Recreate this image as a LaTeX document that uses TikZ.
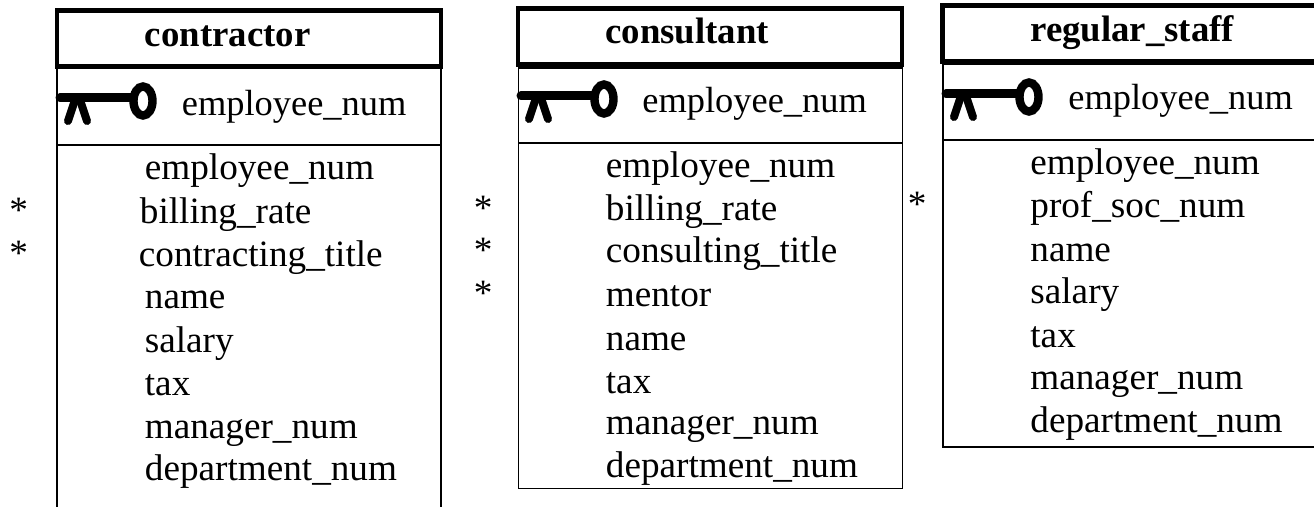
\documentclass[tikz,border=0pt]{standalone}
\usepackage{fontspec}
\setmainfont{Liberation Serif}

\begin{document}
\begin{tikzpicture}[x=0.5pt, y=-0.5pt]
    % Styles
    \tikzstyle{titlebox} = [draw=black, line width=2.4pt, inner sep=0pt, anchor=north west, minimum height=28pt]
    \tikzstyle{frame} = [draw=black, line width=0.9pt]
    \tikzstyle{title} = [anchor=base west, inner sep=0pt, font=\fontsize{18.4}{22}\selectfont\bfseries]
    \tikzstyle{field} = [anchor=base west, inner sep=0pt, font=\fontsize{18.6}{22}\selectfont]
    \tikzstyle{keyfield} = [anchor=base west, inner sep=0pt, font=\fontsize{18.2}{22}\selectfont]
    \tikzset{
        keysym/.pic={
            \draw[line width=4.5pt, line cap=round] (0,0) -- (72,0);
            \draw[line width=4.2pt] (83,3) ellipse (9.5 and 14.5);
            \draw[line width=4pt, line cap=round] (15,2) -- (8,23);
            \draw[line width=4pt, line cap=round] (20,2) -- (27,23);
        }
    }
    \useasboundingbox (0,0) rectangle (1314,507);

    % Contractor
    \node[titlebox, minimum width=192pt] (conTitle) at (54.5,8.5) {};
    \coordinate (conEnd1) at (57,507);
    \coordinate (conEnd2) at (441,507);
    \draw[frame] (conTitle.south west -| conEnd1) -- (conEnd1);
    \draw[frame] (conTitle.south west -| conEnd2) -- (conEnd2);
    \coordinate (conDiv1) at (57,145);
    \coordinate (conDiv2) at (441,145);
    \draw[frame] (conDiv1) -- (conDiv2);
    \pic at (60,98) {keysym};
    \node[title] (conName) at (144.5,46.5) {contractor};
    \node[keyfield] (conKey) at (181.5,116) {employee\_num};
    \node[field] (conA1) at (144.5,180) {employee\_num};
    \node[field] (conA2) at (139.5,224) {billing\_rate};
    \node[field] (conA3) at (138.5,267) {contracting\_title};
    \node[field] (conA4) at (144.5,309) {name};
    \node[field] (conA5) at (144.5,353) {salary};
    \node[field] (conA6) at (144.5,396) {tax};
    \node[field] (conA7) at (144.5,439) {manager\_num};
    \node[field] (conA8) at (144.5,481) {department\_num};
    \node[field] (conS1) at (9,223) {*};
    \node[field] (conS2) at (9,266) {*};

    % Consultant
    \node[titlebox, minimum width=192pt] (cnsTitle) at (515.5,6.5) {};
    \node[frame, anchor=north west, inner sep=0pt, minimum width=192pt, minimum height=210.3pt] (cnsBody) at (517.5,67) {};
    \coordinate (cnsDiv1) at (518,143);
    \coordinate (cnsDiv2) at (902,143);
    \draw[frame] (cnsDiv1) -- (cnsDiv2);
    \pic at (521,96) {keysym};
    \node[title] (cnsName) at (605,44) {consultant};
    \node[keyfield] (cnsKey) at (642,113) {employee\_num};
    \node[field] (cnsA1) at (605.5,178) {employee\_num};
    \node[field] (cnsA2) at (605.5,221) {billing\_rate};
    \node[field] (cnsA3) at (605.5,263) {consulting\_title};
    \node[field] (cnsA4) at (605.5,307) {mentor};
    \node[field] (cnsA5) at (605.5,351) {name};
    \node[field] (cnsA6) at (605.5,394) {tax};
    \node[field] (cnsA7) at (605.5,435) {manager\_num};
    \node[field] (cnsA8) at (605.5,478) {department\_num};
    \node[field] (cnsS1) at (473.5,221) {*};
    \node[field] (cnsS2) at (473.5,263) {*};
    \node[field] (cnsS3) at (473.5,306) {*};

    % Regular staff
    \node[titlebox, minimum width=192pt] (regTitle) at (940,3) {};
    \node[frame, anchor=north west, inner sep=0pt, minimum width=192pt, minimum height=191.7pt] (regBody) at (942,63) {};
    \coordinate (regDiv1) at (943,140);
    \coordinate (regDiv2) at (1314,140);
    \draw[frame] (regDiv1) -- (regDiv2);
    \pic at (946,94) {keysym};
    \node[title] (regName) at (1030,41.5) {regular\_staff};
    \node[keyfield] (regKey) at (1068,110) {employee\_num};
    \node[field] (regA1) at (1030,175) {employee\_num};
    \node[field] (regA2) at (1030,218) {prof\_soc\_num};
    \node[field] (regA3) at (1030,262) {name};
    \node[field] (regA4) at (1030,304) {salary};
    \node[field] (regA5) at (1030,348) {tax};
    \node[field] (regA6) at (1030,390) {manager\_num};
    \node[field] (regA7) at (1030,433) {department\_num};
    \node[field] (regS1) at (907.5,217) {*};
\end{tikzpicture}
\end{document}
